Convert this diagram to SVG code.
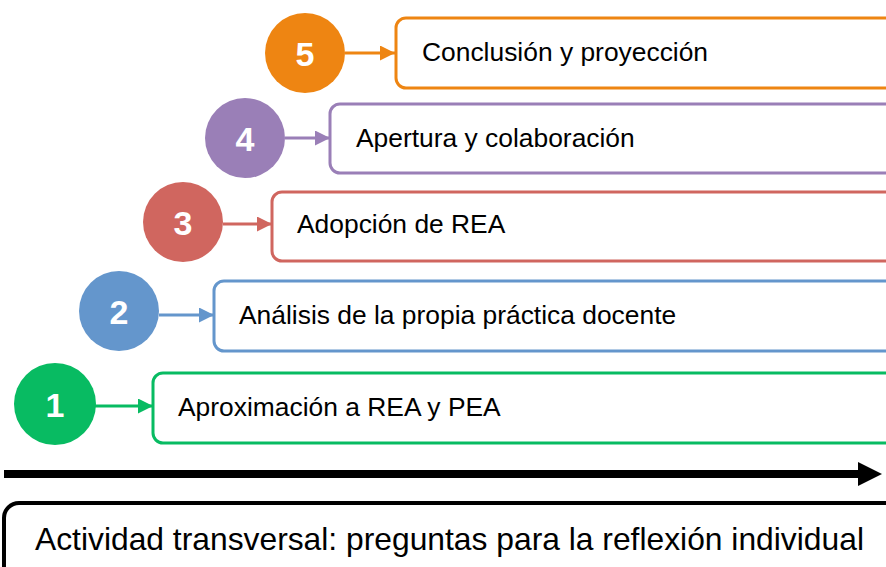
<svg xmlns="http://www.w3.org/2000/svg" width="886" height="567" viewBox="0 0 886 567">
<style>
.box{fill:#fff;stroke-width:3}
.lbl{font-family:"Liberation Sans",Arial,sans-serif;font-size:26.4px;fill:#000}
.num{font-family:"Liberation Sans",Arial,sans-serif;font-size:34px;font-weight:bold;fill:#fff;text-anchor:middle}
.conn{stroke-width:3;fill:none}
</style>
<defs>
<marker id="aO" markerWidth="5" markerHeight="5" refX="5" refY="2.5" orient="auto" markerUnits="strokeWidth"><path d="M0,0L5,2.5L0,5z" fill="#EE8512"/></marker>
<marker id="aP" markerWidth="5" markerHeight="5" refX="5" refY="2.5" orient="auto" markerUnits="strokeWidth"><path d="M0,0L5,2.5L0,5z" fill="#9A7FB7"/></marker>
<marker id="aR" markerWidth="5" markerHeight="5" refX="5" refY="2.5" orient="auto" markerUnits="strokeWidth"><path d="M0,0L5,2.5L0,5z" fill="#D0665F"/></marker>
<marker id="aB" markerWidth="5" markerHeight="5" refX="5" refY="2.5" orient="auto" markerUnits="strokeWidth"><path d="M0,0L5,2.5L0,5z" fill="#6496CC"/></marker>
<marker id="aG" markerWidth="5" markerHeight="5" refX="5" refY="2.5" orient="auto" markerUnits="strokeWidth"><path d="M0,0L5,2.5L0,5z" fill="#08BB62"/></marker>
<marker id="aK" markerWidth="3" markerHeight="3" refX="2" refY="1.5" orient="auto" markerUnits="strokeWidth"><path d="M0,0L3,1.5L0,3z" fill="#000"/></marker>
</defs>
<g id="connectors">
<line class="conn" x1="345" y1="53" x2="395" y2="53" stroke="#EE8512" marker-end="url(#aO)"/>
<line class="conn" x1="285" y1="138" x2="330" y2="138" stroke="#9A7FB7" marker-end="url(#aP)"/>
<line class="conn" x1="223" y1="224" x2="272" y2="224" stroke="#D0665F" marker-end="url(#aR)"/>
<line class="conn" x1="159" y1="315" x2="214" y2="315" stroke="#6496CC" marker-end="url(#aB)"/>
<line class="conn" x1="95" y1="406" x2="153" y2="406" stroke="#08BB62" marker-end="url(#aG)"/>
<line x1="4" y1="474" x2="874" y2="474" stroke="#000" stroke-width="8" marker-end="url(#aK)"/>
</g>
<g id="node5">
<rect class="box" x="396" y="18" width="520" height="70" rx="10" stroke="#EE8512"/>
<circle cx="305" cy="53" r="40" fill="#EE8512"/>
<text class="num" x="305" y="66">5</text>
<text class="lbl" x="422" y="61">Conclusión y proyección</text>
</g>
<g id="node4">
<rect class="box" x="330" y="104" width="600" height="69" rx="10" stroke="#9A7FB7"/>
<circle cx="245" cy="138" r="40" fill="#9A7FB7"/>
<text class="num" x="245" y="151">4</text>
<text class="lbl" x="356" y="147">Apertura y colaboración</text>
</g>
<g id="node3">
<rect class="box" x="272" y="192" width="650" height="69" rx="10" stroke="#D0665F"/>
<circle cx="183" cy="222" r="40" fill="#D0665F"/>
<text class="num" x="183" y="235">3</text>
<text class="lbl" x="297" y="233">Adopción de REA</text>
</g>
<g id="node2">
<rect class="box" x="214" y="281" width="700" height="70" rx="10" stroke="#6496CC"/>
<circle cx="119" cy="311" r="40" fill="#6496CC"/>
<text class="num" x="119" y="324">2</text>
<text class="lbl" x="239" y="324">Análisis de la propia práctica docente</text>
</g>
<g id="node1">
<rect class="box" x="153" y="373" width="760" height="70" rx="10" stroke="#08BB62"/>
<circle cx="55" cy="404" r="41" fill="#08BB62"/>
<text class="num" x="55" y="417">1</text>
<text class="lbl" x="178" y="416">Aproximación a REA y PEA</text>
</g>
<g id="transversal">
<rect x="4" y="503" width="920" height="100" rx="15" fill="#fff" stroke="#000" stroke-width="4"/>
<text x="35" y="550" font-family="Liberation Sans,Arial,sans-serif" font-size="31.8" fill="#000">Actividad transversal: preguntas para la reflexión individual</text>
</g>
</svg>
